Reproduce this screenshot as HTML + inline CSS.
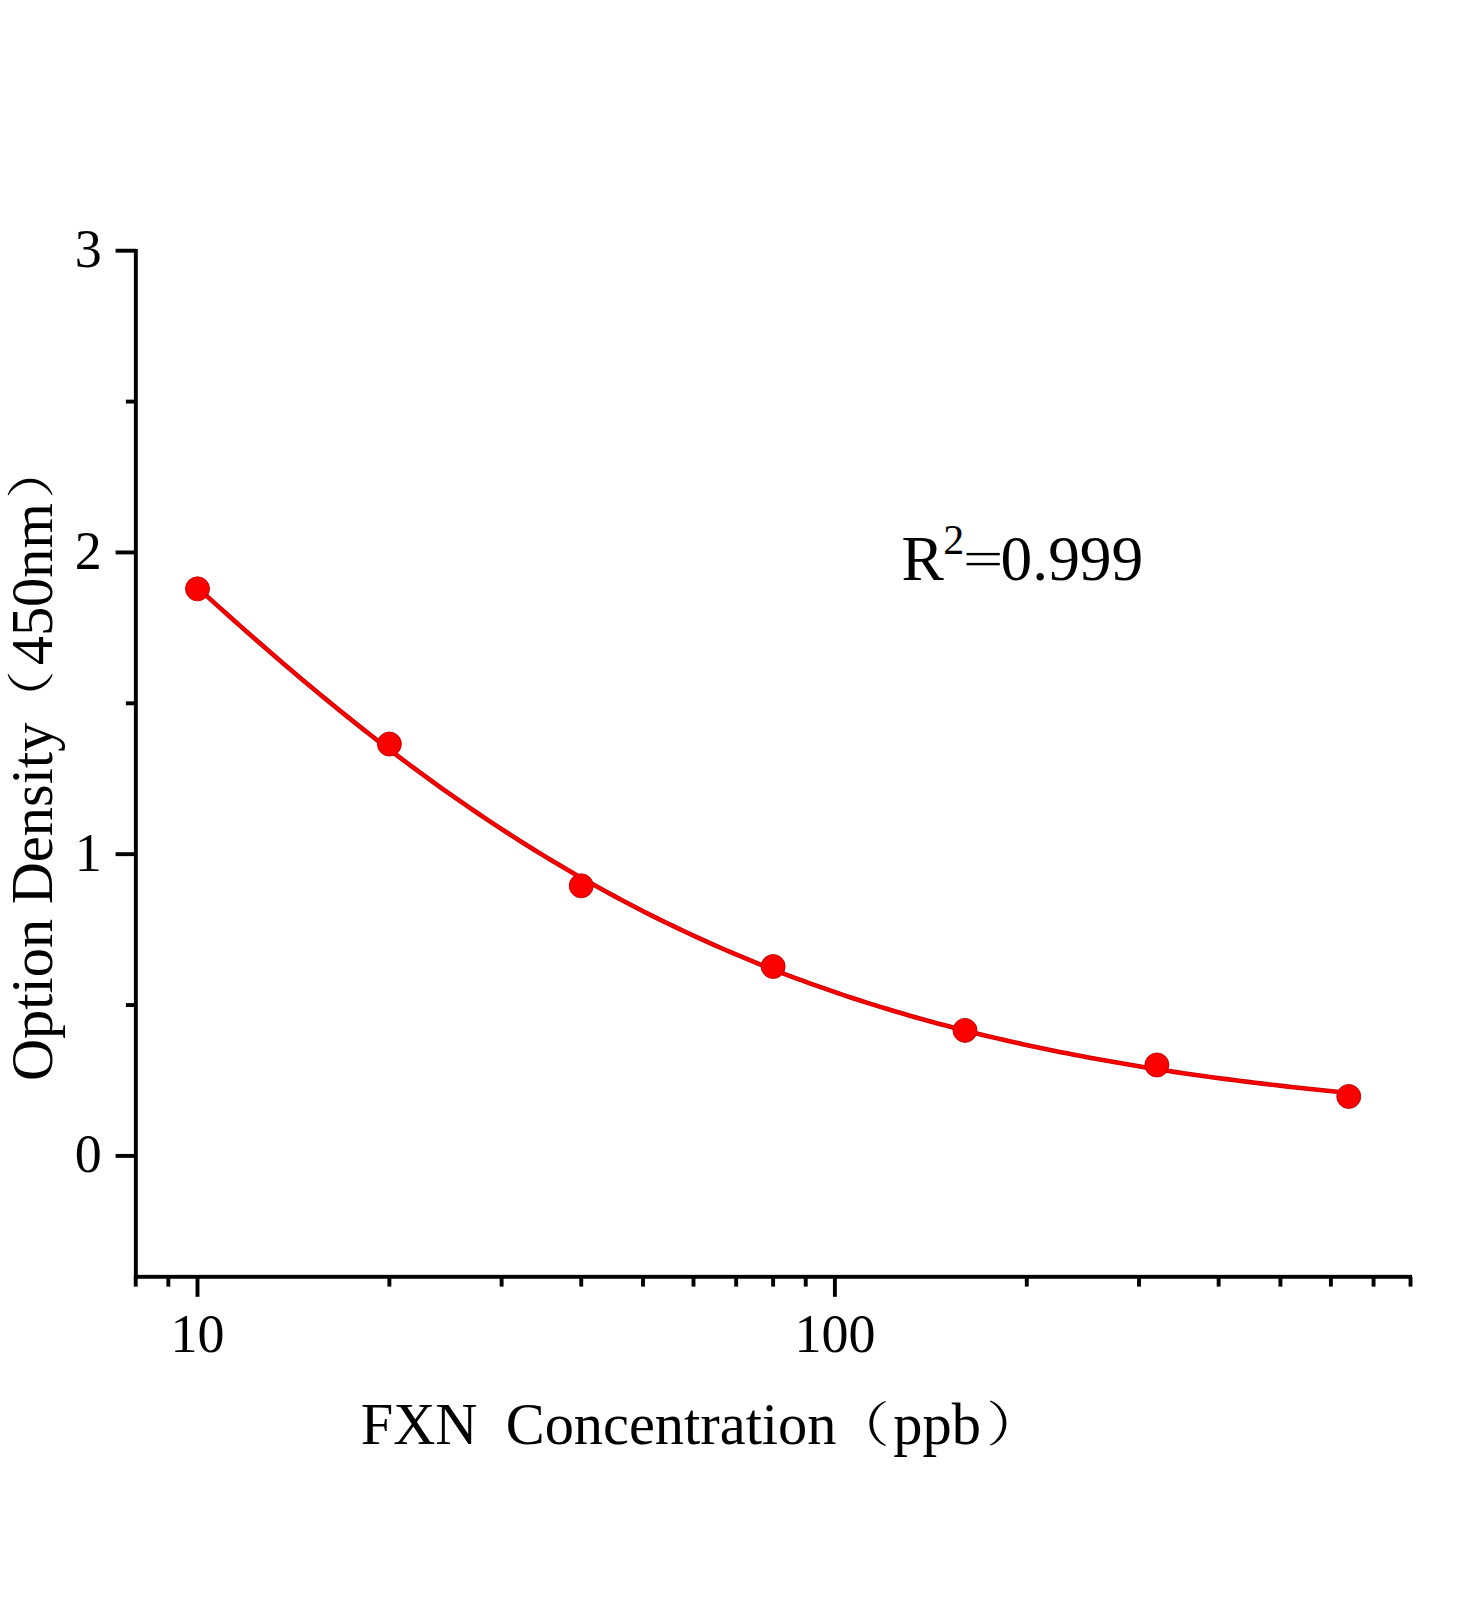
<!DOCTYPE html>
<html><head><meta charset="utf-8"><style>
html,body{margin:0;padding:0;background:#fff;}
svg{display:block;}
text{font-family:"Liberation Serif",serif;fill:#000;}
</style></head><body>
<svg width="1472" height="1600" viewBox="0 0 1472 1600">
<rect width="1472" height="1600" fill="#fff"/>
<g fill="#000">
<rect x="133.90" y="249.00" width="3.90" height="1029.75"/>
<rect x="133.90" y="1274.85" width="1278.10" height="3.90"/>
<rect x="115.60" y="1153.95" width="20.25" height="3.90"/>
<rect x="115.60" y="852.22" width="20.25" height="3.90"/>
<rect x="115.60" y="550.49" width="20.25" height="3.90"/>
<rect x="115.60" y="248.76" width="20.25" height="3.90"/>
<rect x="125.90" y="1003.09" width="9.95" height="3.90"/>
<rect x="125.90" y="701.36" width="9.95" height="3.90"/>
<rect x="125.90" y="399.63" width="9.95" height="3.90"/>
<rect x="195.55" y="1276.80" width="3.90" height="20.00"/>
<rect x="832.95" y="1276.80" width="3.90" height="20.00"/>
<rect x="133.78" y="1276.80" width="3.90" height="9.80"/>
<rect x="166.38" y="1276.80" width="3.90" height="9.80"/>
<rect x="387.43" y="1276.80" width="3.90" height="9.80"/>
<rect x="499.67" y="1276.80" width="3.90" height="9.80"/>
<rect x="579.30" y="1276.80" width="3.90" height="9.80"/>
<rect x="641.07" y="1276.80" width="3.90" height="9.80"/>
<rect x="691.54" y="1276.80" width="3.90" height="9.80"/>
<rect x="734.22" y="1276.80" width="3.90" height="9.80"/>
<rect x="771.18" y="1276.80" width="3.90" height="9.80"/>
<rect x="803.78" y="1276.80" width="3.90" height="9.80"/>
<rect x="1024.83" y="1276.80" width="3.90" height="9.80"/>
<rect x="1137.07" y="1276.80" width="3.90" height="9.80"/>
<rect x="1216.70" y="1276.80" width="3.90" height="9.80"/>
<rect x="1278.47" y="1276.80" width="3.90" height="9.80"/>
<rect x="1328.94" y="1276.80" width="3.90" height="9.80"/>
<rect x="1371.62" y="1276.80" width="3.90" height="9.80"/>
<rect x="1408.58" y="1276.80" width="3.90" height="9.80"/>
</g>
<polyline fill="none" stroke="#c40000" stroke-width="4.6" stroke-linejoin="round" points="197.50,587.57 204.70,594.11 211.89,600.63 219.09,607.11 226.28,613.57 233.48,619.99 240.67,626.38 247.87,632.73 255.06,639.05 262.26,645.34 269.45,651.59 276.65,657.80 283.84,663.97 291.04,670.11 298.24,676.20 305.43,682.25 312.63,688.26 319.82,694.23 327.02,700.15 334.21,706.03 341.41,711.86 348.60,717.65 355.80,723.40 362.99,729.09 370.19,734.74 377.38,740.34 384.58,745.90 391.77,751.40 398.97,756.86 406.17,762.26 413.36,767.62 420.56,772.92 427.75,778.18 434.95,783.38 442.14,788.53 449.34,793.63 456.53,798.68 463.73,803.67 470.92,808.62 478.12,813.51 485.31,818.34 492.51,823.13 499.71,827.86 506.90,832.54 514.10,837.17 521.29,841.74 528.49,846.26 535.68,850.73 542.88,855.14 550.07,859.50 557.27,863.81 564.46,868.07 571.66,872.27 578.85,876.42 586.05,880.52 593.25,884.56 600.44,888.56 607.64,892.50 614.83,896.39 622.03,900.23 629.22,904.02 636.42,907.75 643.61,911.44 650.81,915.08 658.00,918.66 665.20,922.20 672.39,925.69 679.59,929.13 686.79,932.52 693.98,935.86 701.18,939.15 708.37,942.40 715.57,945.60 722.76,948.75 729.96,951.85 737.15,954.91 744.35,957.93 751.54,960.89 758.74,963.82 765.93,966.70 773.13,969.53 780.32,972.33 787.52,975.08 794.72,977.78 801.91,980.45 809.11,983.07 816.30,985.65 823.50,988.19 830.69,990.69 837.89,993.15 845.08,995.57 852.28,997.96 859.47,1000.30 866.67,1002.61 873.86,1004.87 881.06,1007.10 888.26,1009.30 895.45,1011.46 902.65,1013.58 909.84,1015.67 917.04,1017.72 924.23,1019.74 931.43,1021.72 938.62,1023.67 945.82,1025.59 953.01,1027.48 960.21,1029.33 967.40,1031.15 974.60,1032.94 981.80,1034.70 988.99,1036.43 996.19,1038.13 1003.38,1039.80 1010.58,1041.44 1017.77,1043.05 1024.97,1044.64 1032.16,1046.19 1039.36,1047.72 1046.55,1049.22 1053.75,1050.70 1060.94,1052.15 1068.14,1053.57 1075.34,1054.97 1082.53,1056.34 1089.73,1057.69 1096.92,1059.02 1104.12,1060.32 1111.31,1061.60 1118.51,1062.85 1125.70,1064.08 1132.90,1065.29 1140.09,1066.48 1147.29,1067.65 1154.48,1068.79 1161.68,1069.92 1168.87,1071.02 1176.07,1072.11 1183.27,1073.17 1190.46,1074.21 1197.66,1075.24 1204.85,1076.24 1212.05,1077.23 1219.24,1078.20 1226.44,1079.15 1233.63,1080.09 1240.83,1081.00 1248.02,1081.90 1255.22,1082.79 1262.41,1083.65 1269.61,1084.50 1276.81,1085.34 1284.00,1086.15 1291.20,1086.96 1298.39,1087.75 1305.59,1088.52 1312.78,1089.28 1319.98,1090.02 1327.17,1090.75 1334.37,1091.47 1341.56,1092.17 1348.76,1092.86"/>
<polyline fill="none" stroke="#fa0000" stroke-width="3.0" stroke-linejoin="round" points="197.50,587.57 204.70,594.11 211.89,600.63 219.09,607.11 226.28,613.57 233.48,619.99 240.67,626.38 247.87,632.73 255.06,639.05 262.26,645.34 269.45,651.59 276.65,657.80 283.84,663.97 291.04,670.11 298.24,676.20 305.43,682.25 312.63,688.26 319.82,694.23 327.02,700.15 334.21,706.03 341.41,711.86 348.60,717.65 355.80,723.40 362.99,729.09 370.19,734.74 377.38,740.34 384.58,745.90 391.77,751.40 398.97,756.86 406.17,762.26 413.36,767.62 420.56,772.92 427.75,778.18 434.95,783.38 442.14,788.53 449.34,793.63 456.53,798.68 463.73,803.67 470.92,808.62 478.12,813.51 485.31,818.34 492.51,823.13 499.71,827.86 506.90,832.54 514.10,837.17 521.29,841.74 528.49,846.26 535.68,850.73 542.88,855.14 550.07,859.50 557.27,863.81 564.46,868.07 571.66,872.27 578.85,876.42 586.05,880.52 593.25,884.56 600.44,888.56 607.64,892.50 614.83,896.39 622.03,900.23 629.22,904.02 636.42,907.75 643.61,911.44 650.81,915.08 658.00,918.66 665.20,922.20 672.39,925.69 679.59,929.13 686.79,932.52 693.98,935.86 701.18,939.15 708.37,942.40 715.57,945.60 722.76,948.75 729.96,951.85 737.15,954.91 744.35,957.93 751.54,960.89 758.74,963.82 765.93,966.70 773.13,969.53 780.32,972.33 787.52,975.08 794.72,977.78 801.91,980.45 809.11,983.07 816.30,985.65 823.50,988.19 830.69,990.69 837.89,993.15 845.08,995.57 852.28,997.96 859.47,1000.30 866.67,1002.61 873.86,1004.87 881.06,1007.10 888.26,1009.30 895.45,1011.46 902.65,1013.58 909.84,1015.67 917.04,1017.72 924.23,1019.74 931.43,1021.72 938.62,1023.67 945.82,1025.59 953.01,1027.48 960.21,1029.33 967.40,1031.15 974.60,1032.94 981.80,1034.70 988.99,1036.43 996.19,1038.13 1003.38,1039.80 1010.58,1041.44 1017.77,1043.05 1024.97,1044.64 1032.16,1046.19 1039.36,1047.72 1046.55,1049.22 1053.75,1050.70 1060.94,1052.15 1068.14,1053.57 1075.34,1054.97 1082.53,1056.34 1089.73,1057.69 1096.92,1059.02 1104.12,1060.32 1111.31,1061.60 1118.51,1062.85 1125.70,1064.08 1132.90,1065.29 1140.09,1066.48 1147.29,1067.65 1154.48,1068.79 1161.68,1069.92 1168.87,1071.02 1176.07,1072.11 1183.27,1073.17 1190.46,1074.21 1197.66,1075.24 1204.85,1076.24 1212.05,1077.23 1219.24,1078.20 1226.44,1079.15 1233.63,1080.09 1240.83,1081.00 1248.02,1081.90 1255.22,1082.79 1262.41,1083.65 1269.61,1084.50 1276.81,1085.34 1284.00,1086.15 1291.20,1086.96 1298.39,1087.75 1305.59,1088.52 1312.78,1089.28 1319.98,1090.02 1327.17,1090.75 1334.37,1091.47 1341.56,1092.17 1348.76,1092.86"/>
<g fill="#fa0000" stroke="#c00000" stroke-width="0.9">
<circle cx="197.50" cy="588.86" r="12.0"/>
<circle cx="389.38" cy="744.04" r="12.0"/>
<circle cx="581.25" cy="885.85" r="12.0"/>
<circle cx="773.13" cy="966.50" r="12.0"/>
<circle cx="965.01" cy="1030.38" r="12.0"/>
<circle cx="1156.88" cy="1064.96" r="12.0"/>
<circle cx="1348.76" cy="1096.46" r="12.0"/>
</g>
<g font-size="54">
<text x="101.8" y="1172.2" text-anchor="end">0</text>
<text x="101.8" y="870.5" text-anchor="end">1</text>
<text x="101.8" y="568.7" text-anchor="end">2</text>
<text x="101.8" y="267.0" text-anchor="end">3</text>
<text x="197.5" y="1352.3" text-anchor="middle">10</text>
<text x="834.9" y="1352.3" text-anchor="middle">100</text>
</g>
<g font-size="58.4">
<text x="360.7" y="1444.2">FXN</text>
<text x="505.7" y="1444.2">Concentration</text>
<text x="893.3" y="1444.2">ppb</text>
</g>
<path d="M16.0,0 A23.820,23.820 0 0 0 16.0,45.0 L16.5,44.1 A24.625,24.625 0 0 1 16.5,0.9 Z" transform="translate(869.4,1400.9)"/>
<path d="M16.0,0 A23.820,23.820 0 0 0 16.0,45.0 L16.5,44.1 A24.625,24.625 0 0 1 16.5,0.9 Z" transform="translate(1006.4,1400.6) scale(-1,1)"/>
<g font-size="58.4" transform="translate(51.5,0) rotate(-90)">
<text x="-1081.1" y="0">Option Density</text>
<text x="-665.3" y="0">450nm</text>
</g>
<path d="M16.0,0 A23.820,23.820 0 0 0 16.0,45.0 L16.5,44.1 A24.625,24.625 0 0 1 16.5,0.9 Z" transform="translate(52.8,690.4) rotate(-90) translate(0,-45.2)"/>
<path d="M16.0,0 A23.820,23.820 0 0 0 16.0,45.0 L16.5,44.1 A24.625,24.625 0 0 1 16.5,0.9 Z" transform="translate(52.8,478.8) rotate(-90) translate(0,-45.2) scale(-1,1)"/>
<text x="901.4" y="579.7" font-size="63.4">R</text>
<text x="943.2" y="553.8" font-size="42">2</text>
<rect x="966.6" y="552.9" width="33.2" height="2.4"/>
<rect x="966.6" y="562.9" width="33.2" height="2.4"/>
<text x="1000.6" y="579.7" font-size="63.4">0.999</text>
</svg>
</body></html>
